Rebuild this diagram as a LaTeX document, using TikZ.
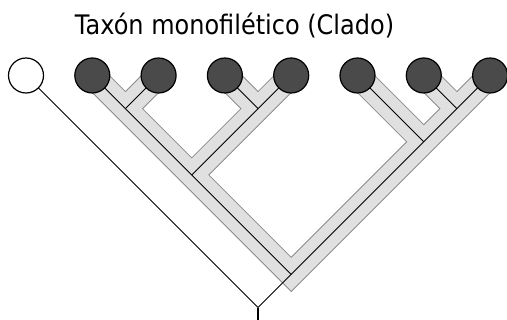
\documentclass[tikz,border=0pt]{standalone}
\usepackage{fontspec}
\setmainfont{DejaVu Sans}
\definecolor{leafgray}{HTML}{4A4A4A}
\definecolor{bandfill}{HTML}{E0E0E0}
\definecolor{bandedge}{HTML}{8C8C8C}
\begin{document}
\begin{tikzpicture}[x=1pt,y=-1pt,
  leaf/.style={circle,draw=black,line width=1.2pt,fill=leafgray,minimum size=35pt,inner sep=0pt},
  outleaf/.style={leaf,fill=white},
  bandout/.style={draw=bandedge,line width=25pt,line join=miter,line cap=butt},
  bandin/.style={draw=bandfill,line width=23pt,line join=miter,line cap=butt},
  branch/.style={draw=black,line width=0.9pt},
  stem/.style={draw=black,line width=1.8pt},
  title/.style={anchor=base,inner sep=0pt,font=\fontsize{24}{28}\selectfont}]
\useasboundingbox (0,0) rectangle (507,320);

% leaf positions
\coordinate (p0) at (26,75.5);
\coordinate (p1) at (92.3,75.5);
\coordinate (p2) at (158.6,75.5);
\coordinate (p3) at (224.9,75.5);
\coordinate (p4) at (291.2,75.5);
\coordinate (p5) at (357.5,75.5);
\coordinate (p6) at (423.8,75.5);
\coordinate (p7) at (490.1,75.5);

% internal nodes
\coordinate (n12) at (125.45,108.65);
\coordinate (n34) at (258.05,108.65);
\coordinate (nA) at (191.75,174.95);
\coordinate (n67) at (456.95,108.65);
\coordinate (nB) at (423.8,141.8);
\coordinate (nC) at (291.2,274.4);
\coordinate (root) at (258.05,307.55);
\coordinate (base) at (258.05,320);

% shaded clade band
\path[bandout] (p1)--(nC)--(p7) (p2)--(n12) (p3)--(n34) (p4)--(nA) (p5)--(nB) (p6)--(n67);
\path[bandin] (p1)--(nC)--(p7) (p2)--(n12) (p3)--(n34) (p4)--(nA) (p5)--(nB) (p6)--(n67);

% tree branches
\path[branch] (p0)--(root);
\path[branch] (p1)--(nC);
\path[branch] (p7)--(root);
\path[branch] (p2)--(n12);
\path[branch] (p3)--(n34);
\path[branch] (p4)--(nA);
\path[branch] (p5)--(nB);
\path[branch] (p6)--(n67);
\path[stem] (root)--(base);

% terminal taxa
\node[outleaf] (l0) at (p0) {};
\node[leaf] (l1) at (p1) {};
\node[leaf] (l2) at (p2) {};
\node[leaf] (l3) at (p3) {};
\node[leaf] (l4) at (p4) {};
\node[leaf] (l5) at (p5) {};
\node[leaf] (l6) at (p6) {};
\node[leaf] (l7) at (p7) {};

\node[title] (title) at (234.5,35) {\scalebox{1}[1.12]{Taxón monofilético (Clado)}};
\end{tikzpicture}
\end{document}
